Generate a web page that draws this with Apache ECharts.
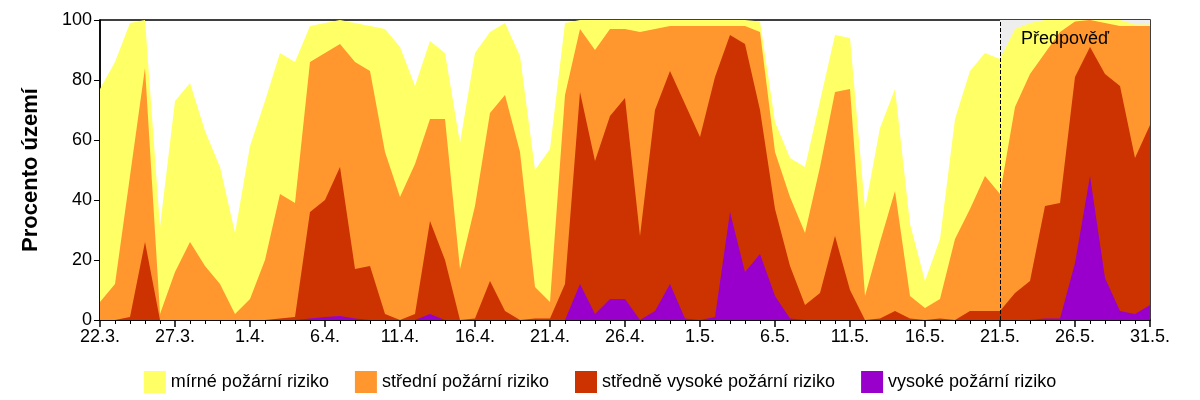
<!DOCTYPE html>
<html><head><meta charset="utf-8">
<script src="https://cdn.jsdelivr.net/npm/echarts@6/dist/echarts.min.js"></script>
<style>html,body{margin:0;padding:0;background:#fff}#c{width:1200px;height:400px}</style>
</head><body><div id="c"></div>
<script>
const tickLabels = ['22.3.','27.3.','1.4.','6.4.','11.4.','16.4.','21.4.','26.4.','1.5.','6.5.','11.5.','16.5.','21.5.','26.5.','31.5.'];
const names = ['mírné požární riziko','střední požární riziko','středně vysoké požární riziko','vysoké požární riziko'];
// cumulative tops of each class (percent of territory), one value per day 22.3.–31.5.
const mild = [77,86,99,100,31,73,79,63,51,29,58,73,89,86,98,99,100,99,98,97,91,78,93,89,59,89,96,99,88,50,57,99,100,100,100,100,100,100,100,100,100,100,100,100,99.5,66,54,51,73,95,94,37,64,77,32,13,27,67,83,89,87,97,99,100,100,100,100,100,100,98.5,98.5];
const medium = [6,12,48,84,2,16,26,18,12,2,7,20,42,39,86,89,92,86,83,56,41,52,67,67,17,38,69,75,56,11,6,75,97,90,97,97,96,97,98,98,98,98,98,98,96,56,41,29,51,76,77,8,26,43,8,4,7,27,37,48,42,71,82,89,96,99.5,100,99,98,98,98];
const high = [0,0,1,26,0,0,0,0,0,0,0,0,0.5,1,36,40,51,17,18,2,0,2,33,20,0,0.5,13,3,0,0.5,0.5,12,76,53,68,74,28,70,83,72,61,81,95,92,70,37,18,5,9,28,10,0,0.5,3,0.5,0,0.5,0,3,3,3,9,13,38,39,81,91,82,78,54,65];
const veryHigh = [0,0,0,0,0,0,0,0,0,0,0,0,0,0,0.5,1,1.3,0.5,0,0,0,0,2,0,0,0,0,0,0,0,0,0,12,2,7,7,0,3,12,0.5,0,1,36,16,22,8,0.5,0,0,0,0,0,0,0,0,0,0,0,0,0,0,0,0,0.5,0.5,19,48,14,3,2,5];
const unknown = mild.map((v,i)=> i>=60 ? 100 : null);
const forecastStart = 60;

const toPts = a => a.map((v,i)=>[i,v]);
const colors = ['#FFFF66','#FF962E','#CC3300','#9900CC'];
const chart = echarts.init(document.getElementById('c'));
const mk = (name, data, color, z) => ({name, type:'line', data:toPts(data), symbol:'none', z,
  lineStyle:{width:0}, areaStyle:{color, opacity:1}, itemStyle:{color}});
chart.setOption({
  animation:false,
  grid:{left:100,right:50,top:20,bottom:80,show:true,borderColor:'#000',borderWidth:1.5},
  legend:{bottom:2,left:'center',itemWidth:22,itemHeight:22,itemGap:26,icon:'rect',
    textStyle:{fontFamily:'Liberation Sans',fontSize:18,color:'#000'},data:names},
  xAxis:{type:'value',min:0,max:70,interval:5,
    axisLine:{lineStyle:{color:'#000',width:1.5}},
    axisTick:{length:7,lineStyle:{color:'#000',width:1.5}},
    minorTick:{show:true,splitNumber:5,length:4,lineStyle:{color:'#000'}},
    splitLine:{show:false},
    axisLabel:{fontFamily:'Liberation Sans',fontSize:18,color:'#000',margin:8,
      formatter:v=>tickLabels[Math.round(v/5)]||''}},
  yAxis:{type:'value',min:0,max:100,interval:20,name:'Procento území',nameLocation:'middle',nameGap:58,
    nameTextStyle:{fontFamily:'Liberation Sans',fontSize:22,fontWeight:'bold',color:'#000'},
    axisLine:{show:true,lineStyle:{color:'#000',width:1.5}},
    axisTick:{show:true,inside:false,length:6,lineStyle:{color:'#000'}},
    splitLine:{show:false},
    axisLabel:{fontFamily:'Liberation Sans',fontSize:18,color:'#000'}},
  series:[
    {name:'unknown',type:'line',data:toPts(unknown),symbol:'none',z:1,lineStyle:{width:0},areaStyle:{color:'#EEEEEE',opacity:1},
      markLine:{silent:true,symbol:'none',label:{show:false},lineStyle:{color:'#000',type:'dashed',width:1},data:[{xAxis:forecastStart}],z:10}},
    mk(names[0],mild,colors[0],2),
    mk(names[1],medium,colors[1],3),
    mk(names[2],high,colors[2],4),
    mk(names[3],veryHigh,colors[3],5)
  ]
});
const p = chart.convertToPixel({gridIndex:0},[forecastStart,100]);
chart.setOption({graphic:[{type:'text',left:p[0]+21,top:p[1]+10,z:100,
  style:{text:'Předpověď',font:'18px "Liberation Sans"',fill:'#000'}}]});
</script></body></html>
